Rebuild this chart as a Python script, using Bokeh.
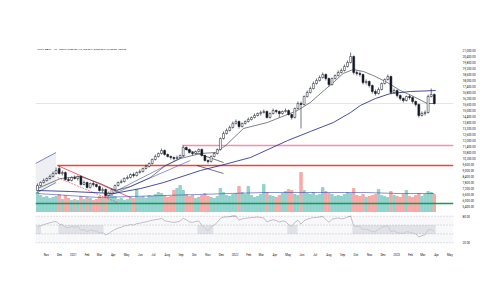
import pandas as pd
from bokeh.plotting import figure
from bokeh.models import (Range1d, FixedTicker, ColumnDataSource, Span, Label,
                          BoxAnnotation, NumeralTickFormatter)
from bokeh.layouts import column
from bokeh.embed import file_html
from bokeh.resources import INLINE

# ---------------- data ----------------
START = pd.Timestamp("2020-10-12")
opens = [7000, 7500, 7800, 8000, 8200, 8400, 8700, 9200, 8700, 8800, 8100, 8000, 8300, 8200, 8400, 7600, 7800, 7300, 7700, 7600,
         7400, 7000, 7100, 6500, 6700, 7100, 7500, 7800, 7900, 8200, 8300, 8600, 8500, 8800, 8900, 9200, 9400, 9700, 10100, 10400,
         10700, 11000, 10600, 10400, 10300, 10200, 10300, 10500, 11300, 11100, 10800, 10700, 10900, 11100, 10500, 10000, 9900, 10400, 10700, 11100,
         12200, 12700, 13000, 13300, 13700, 13900, 13400, 13700, 13900, 14100, 14300, 14500, 14700, 14800, 14900, 14300, 14700, 15000, 14900, 14700,
         14900, 15000, 14600, 14300, 15200, 15700, 15600, 16400, 16800, 17200, 17700, 18000, 18300, 18600, 18200, 17600, 18200, 18500, 18800, 19000,
         19400, 19800, 20400, 18800, 18700, 18600, 17800, 17900, 17500, 16900, 16700, 17100, 17700, 18100, 18400, 16800, 17000, 16500, 16200, 16000,
         16400, 16300, 15900, 15600, 14500, 14700, 14800, 16400, 16600]
closes = [7500, 7800, 8000, 8200, 8400, 8700, 9000, 8700, 8800, 8100, 8000, 8300, 8200, 8400, 7600, 7800, 7300, 7700, 7600, 7400,
          7000, 7100, 6500, 6700, 7100, 7500, 7800, 7900, 8200, 8300, 8600, 8500, 8800, 8900, 9200, 9400, 9700, 10100, 10400, 10700,
          11000, 10600, 10400, 10300, 10200, 10300, 10500, 11300, 11100, 10800, 10700, 10900, 11100, 10500, 10000, 9900, 10400, 10700, 11100, 12200,
          12700, 13000, 13300, 13700, 13900, 13400, 13700, 13900, 14100, 14300, 14500, 14700, 14800, 14900, 14300, 14700, 15000, 14900, 14700, 14900,
          15000, 14600, 14300, 15200, 15700, 15600, 16400, 16800, 17200, 17700, 18000, 18300, 18600, 18200, 17600, 18200, 18500, 18800, 19000, 19400,
          19800, 20400, 18800, 18700, 18600, 17800, 17900, 17500, 16900, 16700, 17100, 17700, 18100, 18400, 16800, 17000, 16500, 16200, 16000, 16400,
          16300, 15900, 15600, 14500, 14700, 14800, 16400, 16600, 15700]
highs = [7700, 7900, 8200, 8300, 8600, 8900, 9300, 9400, 9000, 8900, 8300, 8400, 8500, 8500, 8500, 8000, 7900, 7800, 7900, 7700,
         7500, 7300, 7200, 6900, 7200, 7600, 7900, 8100, 8300, 8500, 8700, 8800, 8900, 9100, 9300, 9600, 9800, 10200, 10600, 10800,
         11200, 11100, 10700, 10500, 10400, 10500, 10600, 11500, 11400, 11200, 10900, 11000, 11200, 11200, 10600, 10100, 10500, 10800, 11200, 12300,
         12900, 13200, 13500, 13900, 14100, 14000, 13800, 14000, 14300, 14400, 14700, 14800, 15000, 15100, 15000, 14800, 15200, 15100, 15000, 15000,
         15200, 15100, 14700, 15300, 15900, 15900, 16500, 17000, 17400, 17900, 18200, 18500, 18800, 18700, 18300, 18300, 18600, 19000, 19200, 19600,
         20000, 20800, 20500, 19000, 18900, 18700, 18100, 18000, 17600, 17100, 17300, 17800, 18200, 18600, 18500, 17200, 17100, 16600, 16300, 16500,
         16600, 16400, 16000, 15700, 14900, 15000, 16600, 17200, 16700]
lows = [6900, 7400, 7700, 7900, 8100, 8300, 8600, 8600, 8500, 8000, 7900, 7900, 8100, 8000, 7500, 7500, 7200, 7200, 7400, 7300,
        6900, 6800, 6400, 6400, 6600, 7000, 7400, 7700, 7800, 8100, 8200, 8300, 8400, 8700, 8800, 9100, 9300, 9600, 10000, 10300,
        10600, 10500, 10300, 10100, 10000, 10100, 10200, 10400, 11000, 10700, 10500, 10600, 10800, 10400, 9900, 9700, 9800, 10300, 10600, 11000,
        12100, 12600, 12900, 13200, 13600, 13200, 13300, 13600, 13800, 14000, 14200, 14400, 14500, 14700, 14200, 14200, 14600, 14700, 14300, 14600,
        14800, 14500, 14100, 14200, 15100, 13200, 15500, 16300, 16700, 17100, 17600, 17900, 18200, 18000, 17400, 17500, 18100, 18400, 18700, 18900,
        19300, 19700, 18600, 18500, 18400, 17600, 17600, 17300, 16700, 16500, 16600, 17000, 17600, 18000, 16600, 16700, 16300, 16000, 15800, 15900,
        16100, 15700, 15400, 14300, 14400, 14500, 14700, 16300, 15600]
volumes = [20, 17, 15, 16, 14, 15, 16, 18, 13, 17, 14, 12, 13, 12, 16, 13, 15, 14, 12, 13,
           16, 14, 19, 15, 17, 16, 13, 14, 12, 13, 15, 14, 23, 15, 16, 14, 17, 16, 18, 20,
           19, 17, 15, 16, 22, 24, 27, 22, 18, 16, 17, 14, 15, 17, 19, 16, 15, 14, 16, 24,
           20, 17, 16, 18, 19, 26, 20, 18, 26, 17, 15, 16, 18, 28, 20, 17, 16, 15, 17, 19,
           21, 23, 22, 18, 17, 40, 22, 19, 18, 20, 17, 18, 25, 21, 19, 18, 16, 17, 16, 18,
           20, 19, 24, 17, 16, 18, 15, 16, 17, 18, 23, 17, 16, 15, 21, 17, 16, 15, 18, 22,
           16, 15, 17, 19, 16, 18, 21, 20, 18]
rsi = [55, 58, 61, 63, 65, 67, 68, 62, 61, 55, 54, 57, 55, 57, 48, 50, 45, 49, 47, 46,
       42, 43, 38, 41, 46, 50, 53, 55, 58, 59, 61, 60, 63, 64, 66, 67, 69, 71, 72, 73,
       75, 70, 68, 67, 66, 67, 69, 75, 72, 67, 66, 68, 69, 60, 53, 47, 56, 60, 66, 75,
       78, 78, 79, 80, 80, 71, 74, 75, 76, 77, 77, 78, 77, 76, 67, 70, 72, 70, 67, 69,
       68, 61, 57, 66, 71, 62, 70, 73, 75, 77, 77, 78, 79, 73, 66, 73, 75, 76, 74, 75,
       78, 80, 58, 57, 56, 50, 51, 48, 45, 45, 50, 55, 57, 58, 45, 47, 43, 42, 41, 45,
       44, 42, 40, 33, 36, 38, 49, 50, 45]

# moving averages (day offset from START, price)
ma_long_days = [0, 75, 172, 233, 285, 368, 413, 481, 565, 616, 668, 707, 729, 763, 797, 842, 899]
ma_long_vals = [7000, 6900, 6700, 7200, 7800, 9000, 9500, 10300, 12000, 12900, 13800, 14800, 15500, 16200, 16700, 16900, 17000]
ma_short_days = [0, 52, 97, 142, 176, 210, 255, 289, 323, 368, 402, 425, 465, 519, 587, 616, 639, 668, 690, 713, 736, 758, 790, 819, 849, 880, 898]
ma_short_vals = [7200, 8200, 8400, 7700, 7000, 7400, 8300, 9500, 10200, 10700, 10800, 11500, 13200, 13800, 15000, 15800, 16700, 17800, 18700, 19100, 18900, 18500, 17800, 17000, 16400, 15700, 15700]
vol_ma_days = [0, 140, 287, 434, 511, 588, 665, 742, 812, 896]
vol_ma_vals = [19, 15, 17, 19, 20, 20, 20, 20, 19, 19]

month_labels = ["Nov", "Dec", "2021", "Feb", "Mar", "Apr", "May", "Jun", "Jul", "Aug", "Sep", "Oct", "Nov", "Dec",
                "2022", "Feb", "Mar", "Apr", "May", "Jun", "Jul", "Aug", "Sep", "Oct", "Nov", "Dec",
                "2023", "Feb", "Mar", "Apr", "May"]
month_starts = pd.date_range("2020-11-01", periods=len(month_labels), freq="MS")
month_days = [int((d - START).days) for d in month_starts]

# levels
last_price = closes[-1]
red_level, red_from = 9500, 45
pink_level, pink_from = 11500, 327
vol_level = 9

# ---------------- derived columns ----------------
days = [7 * i for i in range(len(closes))]
up = [c >= o for o, c in zip(opens, closes)]
src = ColumnDataSource(dict(
    x=days, h=highs, l=lows,
    top=[max(o, c) for o, c in zip(opens, closes)],
    bot=[min(o, c) for o, c in zip(opens, closes)],
    fill=["#ffffff" if u else "#131722" for u in up],
    vol=volumes,
    vcol=["#92d2cc" if u else "#f7a9a7" for u in up],
))

FONT = "Roboto"
XEND = 939.3
XR = Range1d(-4.5, XEND)
FS = "3px"

# ---------------- main pane ----------------
p = figure(width=500, height=212, x_range=XR, y_range=Range1d(4800, 21800),
           output_backend="svg", toolbar_location=None, y_axis_location="right",
           min_border_left=35, min_border_right=47, min_border_top=42, min_border_bottom=0)
p.xaxis.visible = False
p.grid.visible = False
p.outline_line_color = None
p.background_fill_color = "white"
p.border_fill_color = "white"
ya = p.yaxis[0]
ya.ticker = FixedTicker(ticks=[600 * k for k in range(9, 36)])
ya.formatter = NumeralTickFormatter(format="0,0.00")
ya.major_label_text_font_size = FS
ya.major_label_text_color = "#131722"
ya.major_label_text_font = FONT
ya.axis_line_color = None
ya.major_tick_line_color = None
ya.minor_tick_line_color = None
ya.major_label_standoff = 3

p.extra_y_ranges = {"vol": Range1d(0, 170)}
p.vbar(x="x", width=5.4, top="vol", bottom=0, color="vcol", source=src, y_range_name="vol")
p.line(vol_ma_days, vol_ma_vals, color="#3949ab", line_width=0.6, y_range_name="vol")
p.line([-4.5, XEND], [vol_level, vol_level], color="#0f9d58", line_width=1.5, y_range_name="vol")

# horizontal levels
p.line([-4.5, XEND], [last_price, last_price], color="#dcdee4", line_width=0.8)
p.line([red_from, XEND], [red_level, red_level], color="#f44336", line_width=1.5)
p.line([pink_from, XEND], [pink_level, pink_level], color="#f48fb1", line_width=1.5)

# drawings (channels)
p.patch([-4.5, 42, 42, -4.5], [9700, 10800, 7800, 6700], fill_color="#d9dbe3", fill_alpha=0.45, line_color=None)
p.line([-4.5, 42], [9700, 10800], color="#2f3c8f", line_width=0.6)
p.line([-4.5, 42], [6700, 7800], color="#2f3c8f", line_width=0.6)
p.line([45, 210], [9500, 6300], color="#f23645", line_width=0.8)
p.line([45, 180], [8300, 5800], color="#f23645", line_width=0.6, line_dash="2 1")
p.line([158, 334], [6500, 10500], color="#3f51b5", line_width=0.6)
p.line([158, 345], [6400, 10000], color="#3f51b5", line_width=0.6)
p.line([330, 420], [11200, 9800], color="#131722", line_width=0.6)
p.line([360, 420], [9500, 8700], color="#131722", line_width=0.6)

p.line(ma_long_days, ma_long_vals, color="#1a237e", line_width=0.8)
p.line(ma_short_days, ma_short_vals, color="#2a2e39", line_width=0.6)

p.segment("x", "h", "x", "l", source=src, color="#131722", line_width=0.6)
p.vbar(x="x", width=4.4, top="top", bottom="bot", fill_color="fill", line_color="#131722",
       line_width=0.5, source=src)

# title legend
p.add_layout(Label(x=0, y=21100, text="NIFTY BANK · 1W · NSE  O16,600.00 H16,700.00 L15,600.00 C15,700.00 −900.00",
                   text_font_size="2.5px", text_color="#131722", text_font=FONT, text_baseline="middle"))
p.add_layout(Label(x=944, y=21000, text="INR", text_font_size=FS, text_color="#131722",
                   text_font=FONT, text_baseline="middle"))

def box(y, txt, bg, rng=None):
    kw = dict(x=942, y=y, text=txt, text_font_size=FS, text_color="white", text_font=FONT,
              text_baseline="middle", text_align="left", background_fill_color=bg, padding=1)
    if rng:
        kw["y_range_name"] = rng
    p.add_layout(Label(**kw))

box(ma_long_vals[-1], "17,000.00", "#1a237e")
box(last_price + 250, "15,700.00", "#2962ff")
box(last_price - 150, "15,700.00", "#131722")
box(pink_level, "11,500.00", "#f06292")
box(red_level, "9,500.00", "#f44336")
box(vol_level, "9.000M", "#0f9d58", "vol")
box(volumes[-1], "18.00M", "#ef5350", "vol")

# ---------------- RSI pane ----------------
r = figure(width=500, height=47, x_range=XR, y_range=Range1d(13.8, 88.3),
           output_backend="svg", toolbar_location=None, y_axis_location="right",
           min_border_left=35, min_border_right=47, min_border_top=0, min_border_bottom=12)
r.grid.visible = False
r.outline_line_color = None
ry = r.yaxis[0]
ry.ticker = FixedTicker(ticks=[20, 80])
ry.formatter = NumeralTickFormatter(format="0.00")
for ax in (ry, r.xaxis[0]):
    ax.major_label_text_font_size = FS
    ax.major_label_text_font = FONT
    ax.axis_line_color = None
    ax.major_tick_line_color = None
    ax.minor_tick_line_color = None
    ax.major_label_standoff = 3
ry.major_label_text_color = "#131722"
xa = r.xaxis[0]
xa.ticker = FixedTicker(ticks=month_days)
xa.major_label_overrides = {d: lab for d, lab in zip(month_days, month_labels)}
xa.major_label_text_color = "#131722"
xa.major_label_standoff = 1

r.add_layout(BoxAnnotation(bottom=20, top=80, fill_color="#f3f3f7", fill_alpha=0.6, line_color=None))
for l0, r0 in [(-4.5, 8), (47, 149), (361, 397), (564, 587), (711, 899)]:
    r.add_layout(BoxAnnotation(left=l0, right=r0, bottom=40, top=60, fill_color="#d1d4dc", fill_alpha=0.6, line_color=None))
for lv in (80, 60, 40, 20):
    r.add_layout(Span(location=lv, dimension="width", line_color="#9598a1", line_width=0.6, line_dash="1 2"))
r.line(days, rsi, color="#131722", line_width=0.6)

for y, txt, bg in [(60, "60.00", "#2962ff"), (rsi[-1], "45.00", "#131722"), (38, "38.00", "#2962ff")]:
    r.add_layout(Label(x=942, y=y, text=txt, text_font_size=FS, text_color="white", text_font=FONT,
                       text_baseline="middle", background_fill_color=bg, padding=1))

layout = column(p, r)
open("out.html", "w").write(file_html(layout, INLINE))
